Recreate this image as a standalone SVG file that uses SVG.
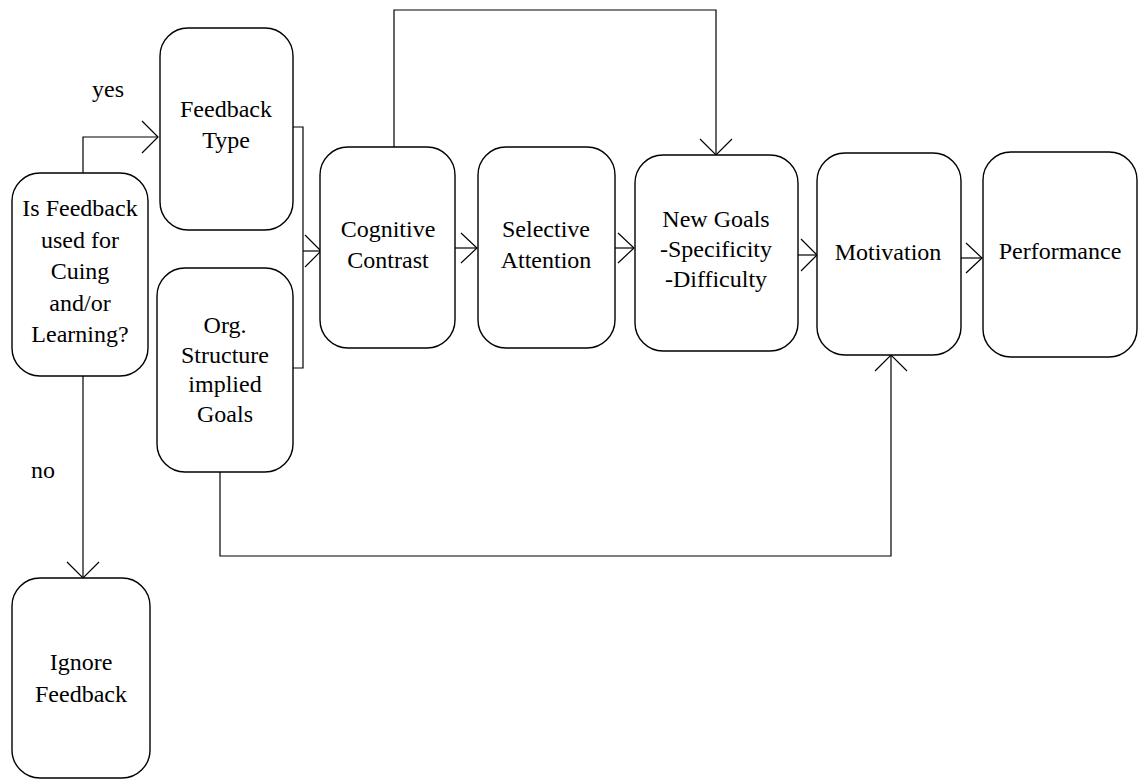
<svg xmlns="http://www.w3.org/2000/svg" width="1138" height="780" viewBox="0 0 1138 780">
<style>
.box{fill:#fff;stroke:#000;stroke-width:1.4}
.ln{fill:none;stroke:#000;stroke-width:1.2}
text{font-family:"Liberation Serif","Times New Roman",serif;font-size:24px;fill:#000;text-anchor:middle}
</style>
<rect width="1138" height="780" fill="#fff"/>
<g id="connectors">
<path class="ln" d="M83,173 V137 H158"/>
<path class="ln" d="M142,121 L158,137 L142,153"/>
<path class="ln" d="M83,376 V578"/>
<path class="ln" d="M67,562 L83,578 L99,562"/>
<path class="ln" d="M293,127 H303 V368 H293"/>
<path class="ln" d="M303,251 H320"/>
<path class="ln" d="M305,235 L321,251 L305,267"/>
<path class="ln" d="M394,147 V10 H716 V155"/>
<path class="ln" d="M700,139 L716,155 L732,139"/>
<path class="ln" d="M455,248 H477"/>
<path class="ln" d="M461,233 L477,248 L461,263"/>
<path class="ln" d="M615,248 H634"/>
<path class="ln" d="M618,233 L634,248 L618,263"/>
<path class="ln" d="M798,255 H817"/>
<path class="ln" d="M801,239 L817,255 L801,271"/>
<path class="ln" d="M961,258 H982"/>
<path class="ln" d="M966,243 L982,258 L966,273"/>
<path class="ln" d="M220,472 V556 H891 V355"/>
<path class="ln" d="M875,371 L891,355 L907,371"/>
</g>
<g id="n-question">
<rect class="box" x="12" y="173" width="136" height="203" rx="28"/>
<text x="80" y="216">Is Feedback</text>
<text x="80" y="248">used for</text>
<text x="80" y="279">Cuing</text>
<text x="80" y="311">and/or</text>
<text x="80" y="342">Learning?</text>
</g>
<g id="n-feedback-type">
<rect class="box" x="160" y="28" width="133" height="202" rx="28"/>
<text x="226" y="117">Feedback</text>
<text x="226" y="148">Type</text>
</g>
<g id="n-org">
<rect class="box" x="157" y="268" width="136" height="204" rx="28"/>
<text x="225" y="333">Org.</text>
<text x="225" y="363">Structure</text>
<text x="225" y="392">implied</text>
<text x="225" y="422">Goals</text>
</g>
<g id="n-ignore">
<rect class="box" x="12" y="578" width="138" height="200" rx="28"/>
<text x="81" y="670">Ignore</text>
<text x="81" y="702">Feedback</text>
</g>
<g id="n-cognitive">
<rect class="box" x="320" y="147" width="135" height="201" rx="28"/>
<text x="388" y="237">Cognitive</text>
<text x="388" y="268">Contrast</text>
</g>
<g id="n-selective">
<rect class="box" x="478" y="147" width="137" height="201" rx="28"/>
<text x="546" y="237">Selective</text>
<text x="546" y="268">Attention</text>
</g>
<g id="n-newgoals">
<rect class="box" x="635" y="155" width="163" height="196" rx="28"/>
<text x="716" y="227">New Goals</text>
<text x="716" y="257">-Specificity</text>
<text x="716" y="287">-Difficulty</text>
</g>
<g id="n-motivation">
<rect class="box" x="817" y="153" width="144" height="202" rx="28"/>
<text x="888" y="260">Motivation</text>
</g>
<g id="n-performance">
<rect class="box" x="983" y="152" width="154" height="205" rx="28"/>
<text x="1060" y="259">Performance</text>
</g>
<g id="labels">
<text x="108" y="97">yes</text>
<text x="43" y="478">no</text>
</g>
</svg>
